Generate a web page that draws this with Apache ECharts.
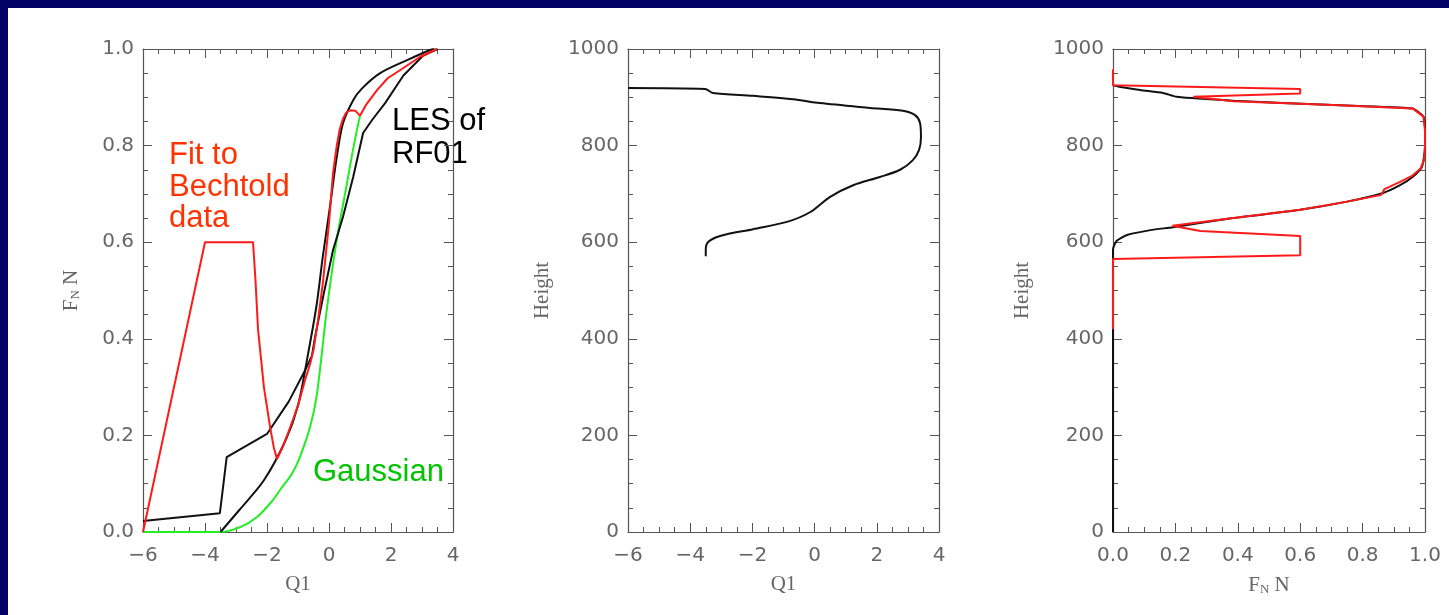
<!DOCTYPE html>
<html>
<head>
<meta charset="utf-8">
<script src="https://cdn.jsdelivr.net/npm/echarts@6/dist/echarts.min.js"></script>
<style>
  html, body { margin: 0; padding: 0; background: #000066; }
  #paper { position: absolute; left: 8px; top: 8px; width: 1441px; height: 607px; background: #fff; }
  #chart { position: absolute; left: 0; top: 0; width: 1449px; height: 615px; }
</style>
</head>
<body>
<div id="paper"></div>
<div id="chart"></div>
<script>
  // panel 1: F_N N against Q1
  var fitBechtold = [[-6,0],[-4,0.6],[-2.45,0.6],[-2.37,0.52],[-2.29,0.42],[-2.1,0.3],[-1.9,0.217],[-1.78,0.175],
    [-1.68,0.151],[-1.5,0.175],[-1.32,0.205],[-1.15,0.235],[-1.0,0.262],[-0.77,0.315],[-0.6,0.35],[-0.5,0.377],
    [-0.35,0.44],[-0.19,0.52],[0,0.64],[0.13,0.743],[0.25,0.8],[0.35,0.835],[0.45,0.855],[0.55,0.868],
    [0.68,0.873],[0.85,0.872],[1.0,0.862],[1.2,0.885],[1.55,0.915],[1.9,0.94],[2.29,0.956],[2.94,0.984],[3.48,1.0]];
  var lesA = [[-6,0.023],[-3.52,0.039],[-3.3,0.155],[-2.0,0.203],[-1.3,0.27],[-0.77,0.335],[-0.55,0.365],
    [-0.45,0.404],[-0.19,0.487],[0.13,0.584],[0.45,0.652],[0.78,0.735],[1.1,0.826],[1.39,0.853],[1.81,0.888],
    [2.4,0.945],[3.03,0.986],[3.5,1.0]];
  var lesB = [[-3.5,0],[-2.9,0.045],[-2.1,0.107],[-1.4,0.19],[-1.0,0.262],[-0.7,0.36],[-0.4,0.47],[-0.2,0.57],
    [0.03,0.673],[0.25,0.776],[0.45,0.846],[0.78,0.894],[1.06,0.918],[1.65,0.95],[2.52,0.977],[3.26,0.998],[3.4,1.0]];
  var gaussian = [[-6,0],[-3.5,0],[-2.87,0.01],[-2.32,0.031],[-1.81,0.066],[-1.58,0.087],[-1.2,0.12],[-0.94,0.155],
    [-0.6,0.22],[-0.39,0.285],[-0.06,0.466],[0.25,0.605],[0.58,0.722],[0.8,0.8],[1.0,0.862]];

  // panel 2: Height against Q1
  var q1Profile = [[-6,919],[-3.52,917],[-3.27,909],[-1.98,903],[-0.69,896],[0.17,888],[1.78,878],[2.84,872],
    [3.23,863],[3.39,847],[3.42,818],[3.36,791],[3.16,770],[2.75,750],[2.1,735],[1.24,718],[0.5,694],[-0.15,662],
    [-0.89,642],[-1.98,627],[-3.04,613],[-3.43,600],[-3.5,584],[-3.5,571]];

  // panel 3: Height against F_N N
  var lesFN = [[0,0],[0,585],[0.012,603],[0.045,615],[0.12,625],[0.192,631],[0.385,650],[0.6,667],[0.75,684],
    [0.866,702],[0.92,718],[0.96,735],[0.99,756],[1.0,798],[1.0,832],[0.995,860],[0.978,870],[0.96,877],
    [0.705,884],[0.385,893],[0.204,901],[0.16,909],[0.087,915],[0.02,922],[0,925]];
  var fitFN = [[0,420],[0,565],[0.6,573],[0.6,613],[0.28,623],[0.19,634],[0.385,650],[0.6,667],[0.75,684],
    [0.86,698],[0.87,710],[0.92,725],[0.96,738],[0.985,752],[0.997,770],[1.0,798],[1.0,832],[0.995,860],
    [0.96,877],[0.705,884],[0.385,892],[0.257,901],[0.6,908],[0.6,917],[0,925],[0,958]];

  var q1Ticks = { min: -6, max: 4, step: 2 };
  var fnTicks = { min: 0, max: 1, step: 0.2 };
  var hTicks = { min: 0, max: 1000, step: 200 };

  var axisColor = '#555';
  var labelStyle = { color: '#666', fontSize: 20, fontFamily: 'DejaVu Sans' };
  var nameStyle = { color: '#666', fontSize: 21, fontFamily: 'Liberation Serif' };
  var fnName = '{a|F}{b|N}{a| N}';
  var fnRich = {
    a: { color: '#666', fontSize: 21, fontFamily: 'Liberation Serif' },
    b: { color: '#666', fontSize: 13, fontFamily: 'Liberation Serif', padding: [9, 0, 0, 0] }
  };

  function minusFmt(v) { return v < 0 ? '\u2212' + (-v) : String(v); }
  function oneDec(v) { return v.toFixed(1); }

  function pair(dim, gi, t, fmt, name, gap, rich) {
    var base = {
      gridIndex: gi, type: 'value', min: t.min, max: t.max, interval: t.step,
      axisLine: { show: true, onZero: false, lineStyle: { color: axisColor, width: 1.2 } },
      axisTick: { show: true, inside: true, length: 9, lineStyle: { color: axisColor } },
      minorTick: { show: true, splitNumber: 4, length: 5, lineStyle: { color: axisColor } },
      splitLine: { show: false }, minorSplitLine: { show: false }
    };
    var main = Object.assign({}, base, {
      position: dim === 'x' ? 'bottom' : 'left',
      name: name, nameLocation: 'middle', nameGap: gap,
      nameTextStyle: rich ? { rich: rich } : nameStyle,
      axisLabel: Object.assign({ margin: dim === 'x' ? 14 : 9, formatter: fmt, showMaxLabel: true, showMinLabel: true }, labelStyle)
    });
    var other = Object.assign({}, base, {
      position: dim === 'x' ? 'top' : 'right', axisLabel: { show: false }
    });
    return [main, other];
  }

  var xAxis = [].concat(
    pair('x', 0, q1Ticks, minusFmt, 'Q1', 42),
    pair('x', 1, q1Ticks, minusFmt, 'Q1', 42),
    pair('x', 2, fnTicks, oneDec, fnName, 42, fnRich)
  );
  var yAxis = [].concat(
    pair('y', 0, fnTicks, oneDec, fnName, 61, fnRich),
    pair('y', 1, hTicks, String, 'Height', 75),
    pair('y', 2, hTicks, String, 'Height', 80)
  );

  function line(data, color, xi, yi, smooth) {
    return {
      type: 'line', data: data, xAxisIndex: xi, yAxisIndex: yi,
      showSymbol: false, symbol: 'none', smooth: smooth || false, silent: true,
      lineStyle: { color: color, width: 2 }
    };
  }

  var annot = function (text, x, y, color) {
    return { type: 'text', left: x, top: y, style: { text: text, fill: color, font: '31px "Liberation Sans"' } };
  };

  var chart = echarts.init(document.getElementById('chart'));
  chart.setOption({
    backgroundColor: 'transparent',
    animation: false,
    grid: [
      { left: 143, top: 49, width: 310, height: 483 },
      { left: 628, top: 49, width: 311, height: 483 },
      { left: 1113, top: 49, width: 312, height: 483 }
    ],
    xAxis: xAxis,
    yAxis: yAxis,
    series: [
      line(gaussian, '#22ee22', 0, 0, 0.3),
      line(lesA, '#111', 0, 0),
      line(lesB, '#111', 0, 0, 0.3),
      line(fitBechtold, '#ff1a1a', 0, 0),
      line(q1Profile, '#111', 2, 2, 0.3),
      line(lesFN, '#111', 4, 4, 0.2),
      line(fitFN, '#ff1a1a', 4, 4)
    ],
    graphic: [
      annot('Fit to', 169, 140, '#ff3300'),
      annot('Bechtold', 169, 172, '#ff3300'),
      annot('data', 169, 203, '#ff3300'),
      annot('LES of', 392, 106, '#000'),
      annot('RF01', 392, 139, '#000'),
      annot('Gaussian', 313, 457, '#00c400')
    ]
  });
</script>
</body>
</html>
